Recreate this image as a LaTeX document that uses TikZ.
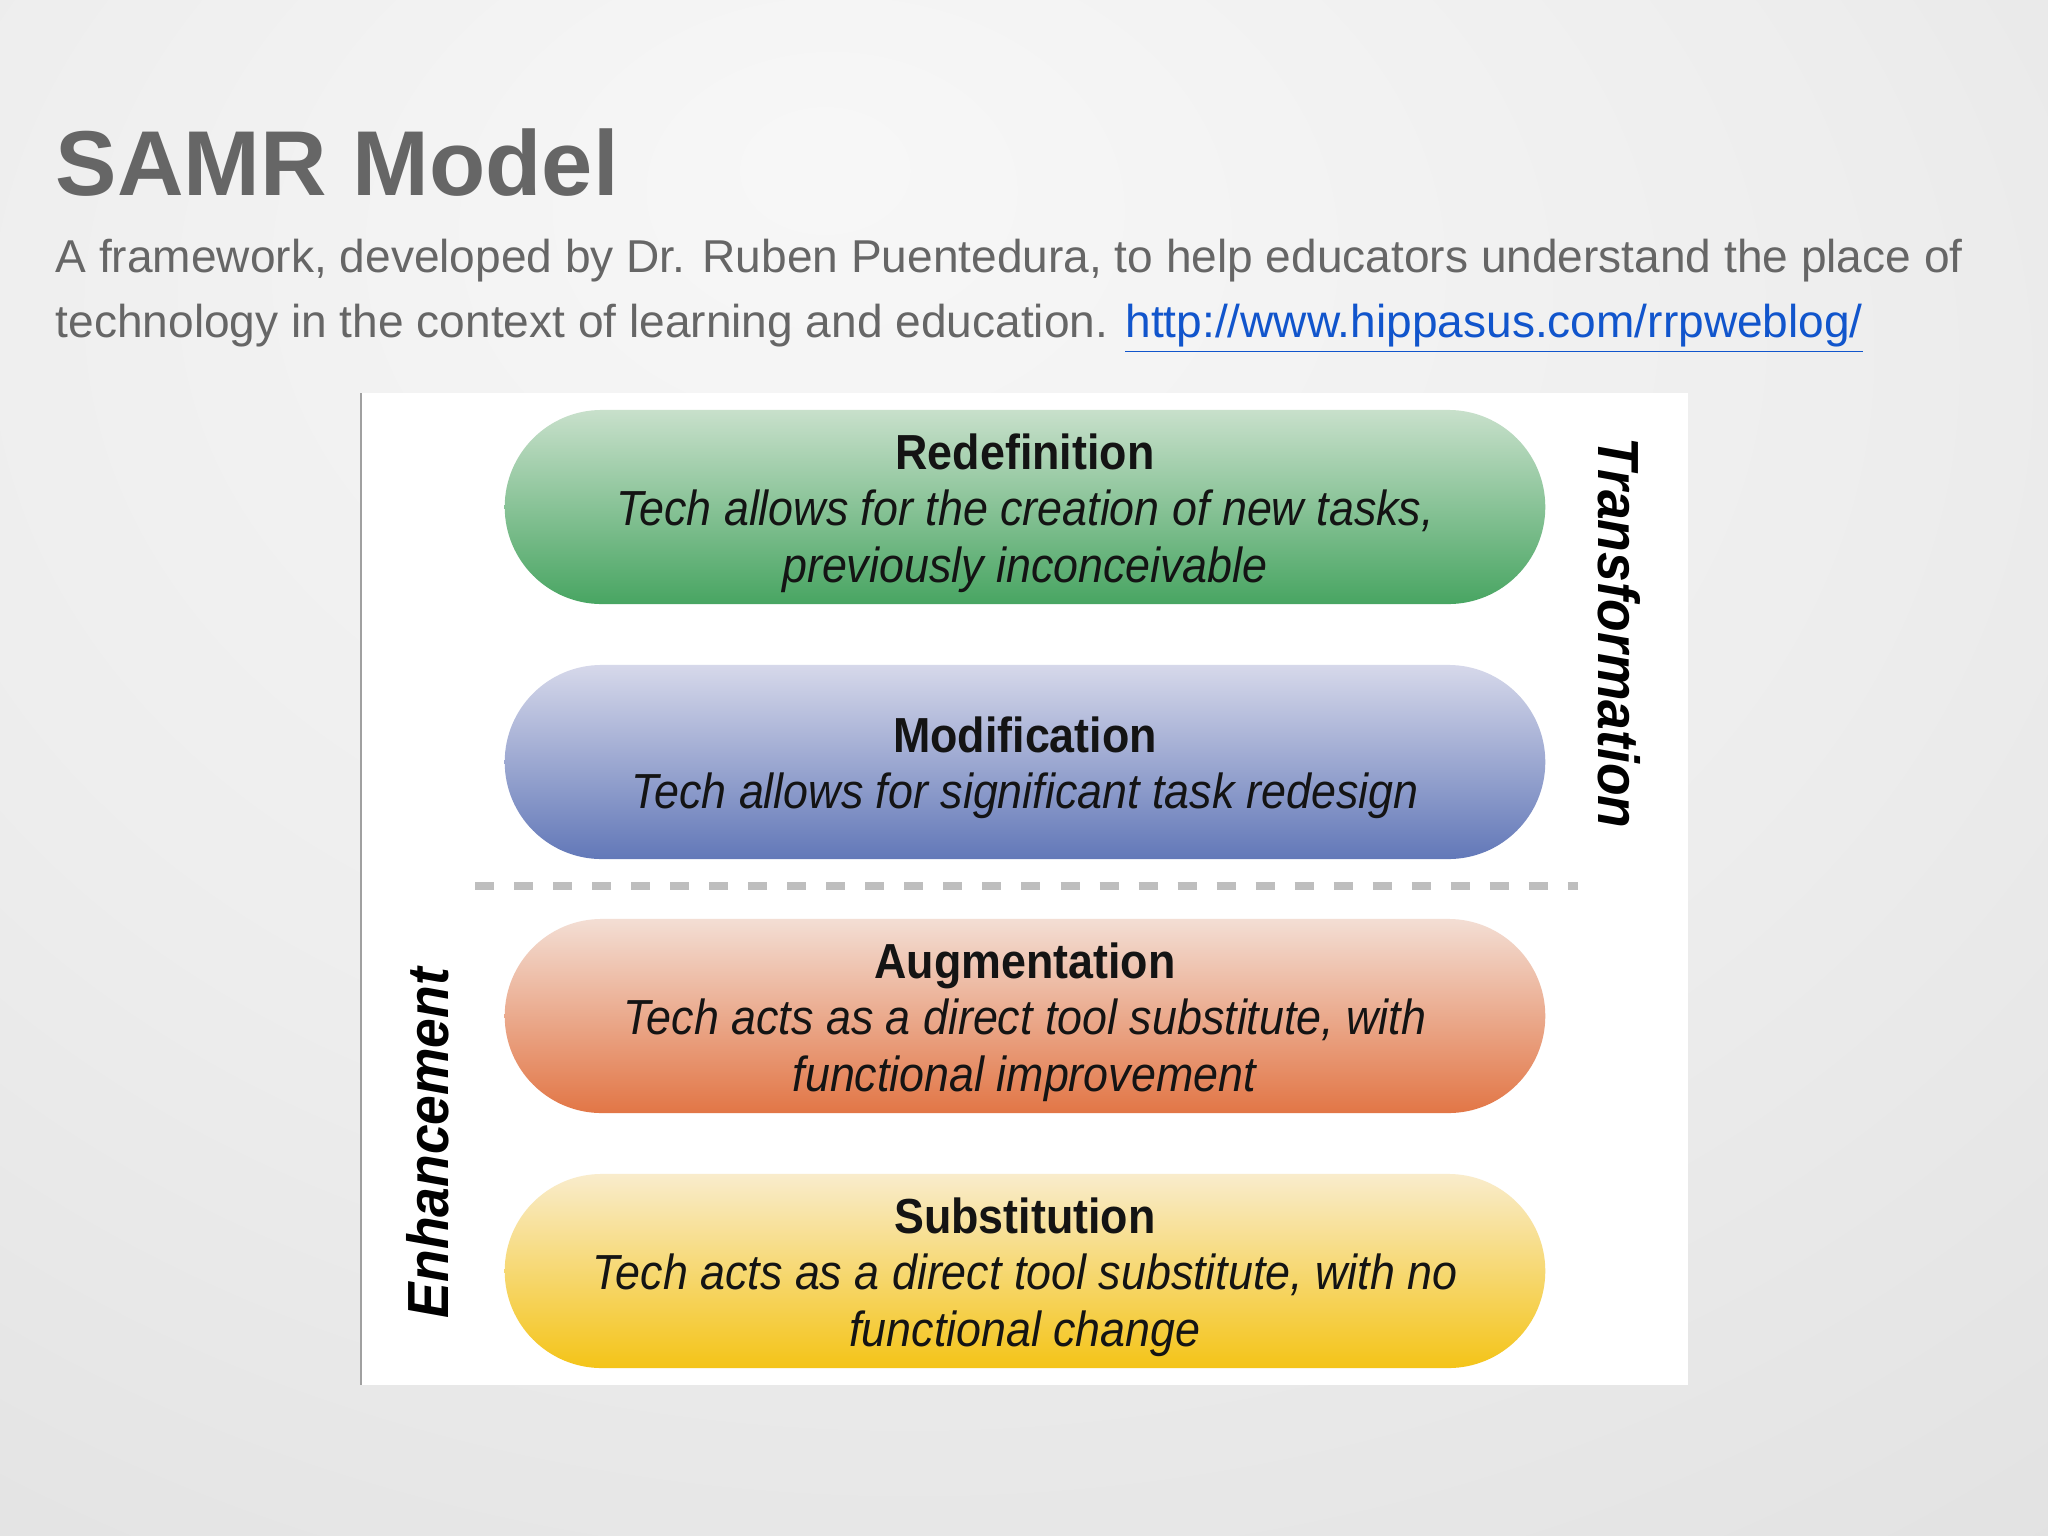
\documentclass[tikz,border=0pt]{standalone}
\usepackage{fontspec}
\setmainfont{Liberation Sans}
\newfontfamily\pillfont[FakeStretch=0.91]{Liberation Sans}
\newfontfamily\sidefont[FakeStretch=0.92]{Liberation Sans}
\usetikzlibrary{shapes.misc}

% Slide colours
\definecolor{slidegray}{RGB}{102,102,102}
\definecolor{linkblue}{RGB}{17,85,204}
\definecolor{dashgray}{RGB}{190,190,190}
\definecolor{boxedge}{RGB}{160,160,160}

% Pill colours (top / bottom of each gradient)
\definecolor{redefTop}{RGB}{200,224,203}
\definecolor{redefBot}{RGB}{72,165,98}
\definecolor{modifTop}{RGB}{214,216,234}
\definecolor{modifBot}{RGB}{98,120,184}
\definecolor{augmTop}{RGB}{243,222,212}
\definecolor{augmBot}{RGB}{226,118,70}
\definecolor{substTop}{RGB}{249,236,204}
\definecolor{substBot}{RGB}{244,196,24}

% Background of the slide
\pgfdeclareradialshading{slidebg}{\pgfpoint{-5bp}{20bp}}{%
  color(0bp)=(white!97!black); color(25bp)=(white!93!black);
  color(55bp)=(white!86!black); color(75bp)=(white!81!black)}

% Heading line of a pill (strut pushes the text block down a little)
\newcommand{\pillhead}[1]{\rule{0pt}{13.6pt}\textbf{#1}}

\tikzset{
  pill/.style={rounded rectangle, minimum width=10.4cm, minimum height=1.94cm,
    inner sep=0pt, align=center, text=black!92,
    font=\pillfont\fontsize{14}{16}\selectfont},
  sidelabel/.style={inner sep=0pt, text=black,
    font=\sidefont\bfseries\itshape\fontsize{16.5}{18}\selectfont},
  slidetext/.style={anchor=base west, inner sep=0pt, text=slidegray,
    font=\fontsize{13.1}{16}\selectfont},
}

\begin{document}
\begin{tikzpicture}[x=0.01cm, y=-0.01cm]

% Page and background
\useasboundingbox (0,0) rectangle (2048,1536);
\shade[shading=slidebg] (0,0) rectangle (2048,1536);

% Title and subtitle
\node[anchor=base west, inner sep=0pt, text=slidegray,
  font=\bfseries\fontsize{26.2}{30}\selectfont] (title) at (55,195) {SAMR Model};
\node[slidetext] (sub1) at (55,272)
  {A framework, developed by Dr. Ruben Puentedura, to help educators understand the place of};
\node[slidetext] (sub2) at (55,337)
  {technology in the context of learning and education. \textcolor{linkblue}{\underline{http://www.hippasus.com/rrpweblog/}}};

% White picture area
\fill[white] (360,393) rectangle (1688,1385);
\draw[boxedge, line width=0.6pt] (361,393) -- (361,1385);

% The four levels
\node[pill, top color=redefTop, bottom color=redefBot] (redef) at (1025,507)
  {\pillhead{Redefinition}\\ \textit{Tech allows for the creation of new tasks,}\\ \textit{previously inconceivable}};
\node[pill, top color=modifTop, bottom color=modifBot] (modif) at (1025,762)
  {\pillhead{Modification}\\ \textit{Tech allows for significant task redesign}};
\node[pill, top color=augmTop, bottom color=augmBot] (augm) at (1025,1016)
  {\pillhead{Augmentation}\\ \textit{Tech acts as a direct tool substitute, with}\\ \textit{functional improvement}};
\node[pill, top color=substTop, bottom color=substBot] (subst) at (1025,1271)
  {\pillhead{Substitution}\\ \textit{Tech acts as a direct tool substitute, with no}\\ \textit{functional change}};

% Dashed divider
\coordinate (dashL) at (475,886);
\coordinate (dashR) at (1578,886);
\draw[dashgray, line width=2pt, dash pattern=on 5.4pt off 5.7pt] (dashL) -- (dashR);

% Side labels
\node[sidelabel, rotate=-90] (trans) at (1619,633) {Transformation};
\node[sidelabel, rotate=90] (enhan) at (428,1143) {Enhancement};

\end{tikzpicture}
\end{document}
